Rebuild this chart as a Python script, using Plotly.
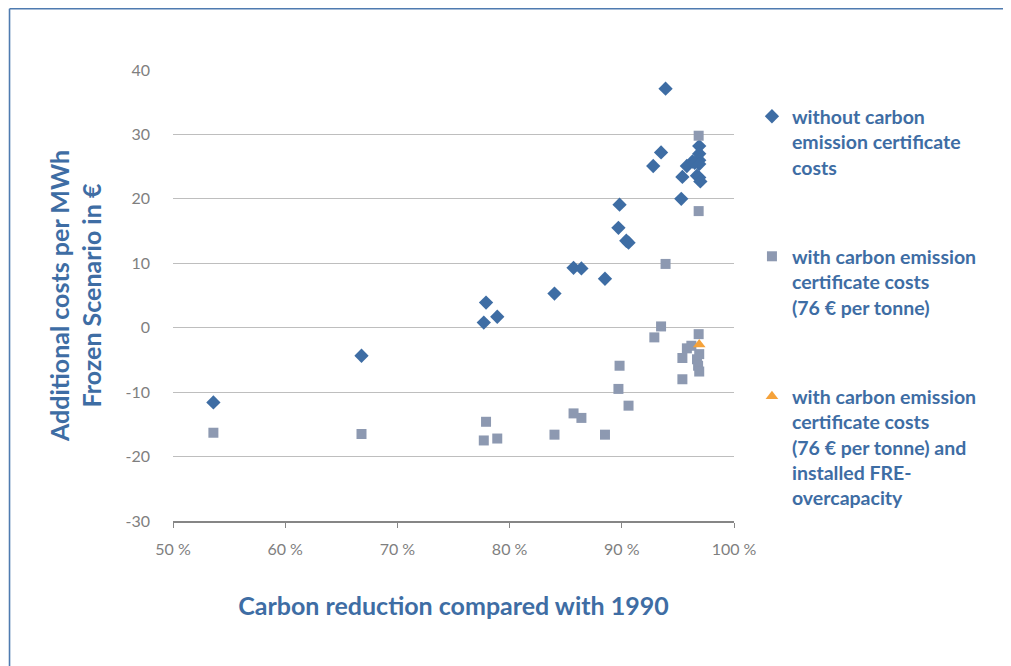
import plotly.graph_objects as go

# carbon reduction vs 1990 (%) and additional costs per MWh (EUR)
without_x = [53.6, 66.8, 77.9, 77.7, 78.9, 84.0, 85.7, 86.4, 88.5, 89.7, 89.8, 90.4, 90.6,
             93.9, 93.5, 92.8, 95.4, 95.3, 95.8, 96.3, 96.9, 96.9, 96.9, 96.5, 96.9, 96.7,
             96.9, 97.0]
without_y = [-11.6, -4.35, 3.9, 0.8, 1.7, 5.3, 9.3, 9.2, 7.6, 15.5, 19.1, 13.5, 13.2,
             37.1, 27.2, 25.1, 23.4, 20.0, 25.1, 25.8, 28.2, 27.0, 26.0, 25.6, 25.4, 23.6,
             23.3, 22.7]

with_x = [53.6, 66.8, 77.9, 77.7, 78.9, 84.0, 85.7, 86.4, 88.5, 89.7, 89.8, 90.6,
          93.9, 93.5, 92.9, 96.85, 96.85, 96.85, 95.8, 96.2, 95.4, 96.7, 96.9, 96.8,
          96.9, 95.4]
with_y = [-16.3, -16.5, -14.6, -17.5, -17.2, -16.6, -13.3, -14.0, -16.6, -9.5, -5.9, -12.1,
          9.9, 0.2, -1.5, 29.8, 18.1, -1.0, -3.2, -2.8, -4.7, -4.9, -4.1, -5.9,
          -6.8, -8.0]

fre_x = [96.9]
fre_y = [-2.6]

x_ticks = [50, 60, 70, 80, 90, 100]
x_tick_labels = ["50 %", "60 %", "70 %", "80 %", "90 %", "100 %"]
y_ticks = [-30, -20, -10, 0, 10, 20, 30, 40]
y_tick_labels = ["-30", "-20", "-10", "0", "10", "20", "30", "40"]

BLUE = "#3E6DA4"
GREY = "#8D99B1"
ORANGE = "#F5A23A"
FONT = "Lato"

fig = go.Figure()
fig.add_trace(go.Scatter(
    x=without_x, y=without_y, mode="markers", legendgroup="a",
    name="<b>without carbon<br>emission certificate<br>costs</b>",
    marker=dict(symbol="diamond", size=11, color=BLUE)))
fig.add_trace(go.Scatter(
    x=with_x, y=with_y, mode="markers", legendgroup="b",
    name="<b>with carbon emission<br>certificate costs<br>(76 € per tonne)</b>",
    marker=dict(symbol="square", size=10, color=GREY)))
fig.add_trace(go.Scatter(
    x=fre_x, y=fre_y, mode="markers", legendgroup="c",
    name="<b>with carbon emission<br>certificate costs<br>(76 € per tonne) and<br>installed FRE-<br>overcapacity</b>",
    marker=dict(symbol="triangle-up", size=11, color=ORANGE)))

fig.update_xaxes(
    range=[50, 100], tickvals=x_ticks, ticktext=x_tick_labels,
    showgrid=False, showline=True, linecolor="#868686", linewidth=2,
    ticks="outside", ticklen=5, tickcolor="#868686", ticklabelstandoff=8,
    tickfont=dict(family=FONT, size=16, color="#7F7F7F"),
    title=dict(text="<b>Carbon reduction compared with 1990</b>", standoff=40,
               font=dict(family=FONT, size=25, color=BLUE)),
    zeroline=False)
fig.update_yaxes(
    range=[-30, 40], tickvals=y_ticks, ticktext=y_tick_labels,
    showgrid=True, gridcolor="#BEBEBE", gridwidth=1.3, zeroline=False,
    ticks="", ticklabelstandoff=22,
    tickfont=dict(family=FONT, size=16, color="#7F7F7F"),
    title=dict(text="<b>Additional costs per MWh<br>Frozen Scenario in €</b>", standoff=16,
               font=dict(family=FONT, size=25, color=BLUE)))

# the page puts the figure 8 px in from the top left corner
frame = dict(color="#4F7BB0", width=1.6)
fig.update_layout(
    width=1003, height=658,
    margin=dict(l=165, r=277, t=62, b=145),
    plot_bgcolor="white", paper_bgcolor="white",
    legend=dict(x=1.032, y=0.94, xanchor="left", yanchor="top",
                valign="top", tracegroupgap=61, itemwidth=30, maxheight=2000,
                font=dict(family=FONT, size=19.5, color=BLUE)),
    shapes=[
        dict(type="line", xref="paper", yref="paper",
             x0=-0.2914, x1=1.4938, y0=1.1358, y1=1.1358, line=frame),
        dict(type="line", xref="paper", yref="paper",
             x0=-0.2914, x1=-0.2914, y0=-0.3215, y1=1.1358, line=frame),
    ])

fig.write_html("out.html")
